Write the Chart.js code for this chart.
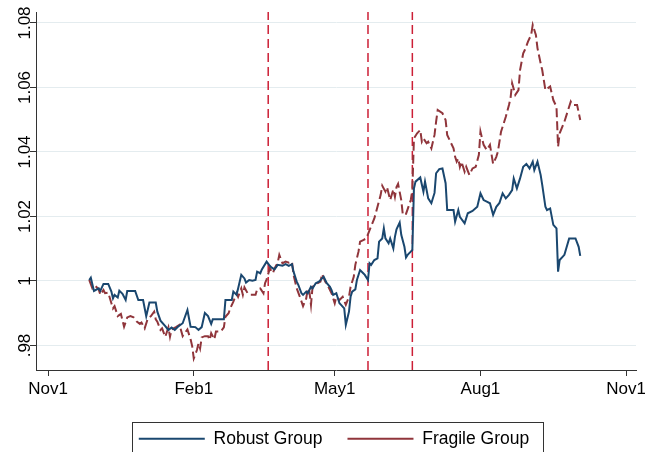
<!DOCTYPE html>
<html>
<head>
<meta charset="utf-8">
<script src="https://cdn.jsdelivr.net/npm/chart.js@4.4.1/dist/chart.umd.min.js"></script>
<style>
  html, body { margin: 0; padding: 0; background: #fff; }
</style>
</head>
<body>
<canvas id="chart" width="645" height="452"></canvas>
<script>
// x values are days counted from Nov 1
const robustDays = [
  26, 27, 29, 32, 33, 35, 38, 40, 41, 42,
  44, 45, 47, 49, 50, 55, 57, 60, 62, 64,
  68, 69, 71, 74, 76, 78, 80, 82, 85, 88,
  90, 93, 95, 97, 99, 101, 103, 104, 111, 112,
  116, 117, 119, 120, 122, 124, 125, 127, 129, 131,
  132, 134, 135, 138, 140, 141, 143, 145, 148, 150,
  152, 154, 155, 157, 158, 160, 161, 163, 164, 166,
  167, 169, 171, 173, 174, 176, 178, 179, 180, 182,
  184, 185, 187, 188, 190, 191, 192, 194, 195, 197,
  199, 200, 202, 203, 204, 206, 208, 209, 211, 212,
  213, 215, 216, 218, 219, 220, 222, 223, 225, 226,
  227, 229, 230, 231, 232, 235, 237, 238, 240, 242,
  244, 245, 247, 249, 251, 252, 256, 257, 259, 260,
  263, 265, 268, 271, 273, 275, 277, 279, 281, 283,
  285, 287, 289, 291, 293, 294, 296, 298, 300, 302,
  304, 306, 307, 309, 311, 312, 314, 315, 317, 319,
  321, 322, 323, 326, 329, 333, 335, 336
];
const robustVals = [
  1.0003, 1.0010, 0.9969, 0.9977, 0.9969, 0.9991, 0.9991, 0.9967, 0.9946, 0.9957,
  0.9949, 0.9970, 0.9960, 0.9941, 0.9969, 0.9969, 0.9941, 0.9941, 0.9891, 0.9933,
  0.9933, 0.9905, 0.9877, 0.9860, 0.9848, 0.9856, 0.9848, 0.9858, 0.9869, 0.9910,
  0.9858, 0.9857, 0.9848, 0.9857, 0.9901, 0.9891, 0.9867, 0.9881, 0.9881, 0.9941,
  0.9941, 0.9967, 0.9957, 0.9977, 1.0019, 1.0008, 0.9995, 1.0003, 1.0001, 1.0003,
  1.0029, 1.0024, 1.0036, 1.0060, 1.0047, 1.0042, 1.0036, 1.0050, 1.0047, 1.0052,
  1.0047, 1.0052, 1.0029, 0.9998, 0.9988, 0.9962, 0.9957, 0.9967, 0.9962, 0.9982,
  0.9977, 0.9993, 0.9998, 1.0008, 1.0013, 0.9993, 0.9982, 0.9972, 0.9957, 0.9962,
  0.9931, 0.9926, 0.9915, 0.9864, 0.9905, 0.9951, 0.9967, 0.9974, 1.0003, 1.0034,
  1.0024, 1.0019, 1.0003, 1.0055, 1.0050, 1.0065, 1.0070, 1.0122, 1.0132, 1.0163,
  1.0132, 1.0117, 1.0132, 1.0101, 1.0137, 1.0160, 1.0181, 1.0143, 1.0106, 1.0073,
  1.0081, 1.0091, 1.0096, 1.0287, 1.0308, 1.0321, 1.0277, 1.0308, 1.0256, 1.0241,
  1.0273, 1.0334, 1.0347, 1.0349, 1.0303, 1.0220, 1.0220, 1.0184, 1.0220, 1.0199,
  1.0179, 1.0210, 1.0217, 1.0230, 1.0272, 1.0251, 1.0246, 1.0241, 1.0205, 1.0230,
  1.0242, 1.0272, 1.0256, 1.0267, 1.0282, 1.0318, 1.0287, 1.0318, 1.0354, 1.0363,
  1.0349, 1.0370, 1.0344, 1.0370, 1.0329, 1.0298, 1.0230, 1.0220, 1.0225, 1.0174,
  1.0163, 1.0029, 1.0065, 1.0081, 1.0132, 1.0132, 1.0106, 1.0078
];
const fragileDays = [
  26, 28, 30, 32, 33, 35, 36, 38, 40, 41,
  42, 44, 46, 48, 50, 52, 54, 56, 58, 59,
  61, 63, 65, 67, 68, 69, 71, 72, 74, 76,
  77, 78, 81, 83, 85, 88, 90, 91, 92, 94,
  95, 96, 97, 99, 101, 102, 103, 105, 106, 109,
  111, 112, 114, 115, 117, 119, 120, 122, 123, 124,
  126, 128, 131, 132, 134, 136, 137, 138, 140, 142,
  143, 145, 146, 148, 150, 152, 154, 155, 157, 159,
  161, 163, 164, 165, 166, 167, 170, 172, 173, 175,
  177, 179, 181, 182, 184, 186, 188, 190, 191, 193,
  194, 196, 197, 199, 201, 203, 206, 208, 210, 211,
  213, 214, 216, 218, 219, 220, 221, 223, 224, 226,
  227, 229, 230, 231, 233, 235, 236, 237, 239, 240,
  242, 244, 245, 246, 249, 251, 252, 254, 256, 257,
  258, 259, 260, 261, 263, 264, 266, 268, 270, 272,
  273, 275, 277, 279, 281, 283, 284, 286, 289, 291,
  292, 293, 295, 297, 298, 300, 301, 303, 305, 306,
  308, 309, 311, 312, 314, 317, 319, 321, 322, 323,
  326, 330, 331, 334, 336
];
const fragileVals = [
  1.0003, 0.9977, 0.9984, 0.9974, 0.9957, 0.9972, 0.9962, 0.9964, 0.9931, 0.9915,
  0.9922, 0.9891, 0.9898, 0.9858, 0.9887, 0.9891, 0.9887, 0.9874, 0.9867, 0.9871,
  0.9853, 0.9884, 0.9891, 0.9905, 0.9881, 0.9874, 0.9848, 0.9853, 0.9827, 0.9856,
  0.9827, 0.9850, 0.9858, 0.9864, 0.9829, 0.9850, 0.9819, 0.9798, 0.9760, 0.9786,
  0.9807, 0.9791, 0.9825, 0.9829, 0.9829, 0.9817, 0.9838, 0.9819, 0.9843, 0.9843,
  0.9856, 0.9889, 0.9900, 0.9915, 0.9936, 0.9962, 0.9951, 0.9977, 0.9957, 0.9980,
  0.9962, 0.9957, 0.9957, 0.9974, 0.9977, 0.9962, 0.9993, 1.0005, 1.0039, 1.0024,
  1.0039, 1.0057, 1.0081, 1.0055, 1.0060, 1.0057, 1.0060, 1.0019, 0.9977, 0.9951,
  0.9922, 0.9946, 0.9977, 0.9967, 0.9926, 0.9982, 0.9993, 0.9998, 1.0022, 0.9998,
  0.9982, 0.9962, 0.9931, 0.9951, 0.9941, 0.9951, 0.9926, 0.9951, 0.9982, 1.0013,
  1.0050, 1.0091, 1.0122, 1.0127, 1.0132, 1.0158, 1.0194, 1.0230, 1.0267, 1.0295,
  1.0277, 1.0291, 1.0251, 1.0284, 1.0261, 1.0291, 1.0301, 1.0251, 1.0205, 1.0208,
  1.0222, 1.0251, 1.0282, 1.0442, 1.0458, 1.0468, 1.0432, 1.0442, 1.0427, 1.0432,
  1.0411, 1.0453, 1.0494, 1.0530, 1.0520, 1.0499, 1.0453, 1.0432, 1.0411, 1.0385,
  1.0370, 1.0380, 1.0354, 1.0370, 1.0339, 1.0354, 1.0329, 1.0349, 1.0354, 1.0391,
  1.0463, 1.0422, 1.0406, 1.0422, 1.0363, 1.0385, 1.0401, 1.0463, 1.0509, 1.0546,
  1.0567, 1.0613, 1.0577, 1.0592, 1.0654, 1.0706, 1.0716, 1.0742, 1.0763, 1.0794,
  1.0763, 1.0722, 1.0675, 1.0654, 1.0592, 1.0603, 1.0561, 1.0540, 1.0416, 1.0458,
  1.0494, 1.0556, 1.0546, 1.0546, 1.0499
];
const eventDays = [139, 202, 230];
const xTickDays = [0, 92, 181, 273, 365];
const xTickLabels = ['Nov1', 'Feb1', 'May1', 'Aug1', 'Nov1'];
const yTickVals = [0.98, 1, 1.02, 1.04, 1.06, 1.08];
const yTickLabels = ['.98', '1', '1.02', '1.04', '1.06', '1.08'];

const yMin = 0.9724, yMax = 1.0834;
const blue = '#1a476f', maroon = '#90353b', eventRed = '#cc1f36';

Chart.defaults.font.family = '"Liberation Sans", Arial, sans-serif';
Chart.defaults.color = '#000';

const pairs = (xs, ys) => xs.map((d, i) => ({x: d, y: ys[i]}));

const datasets = [{
    label: 'Robust Group',
    data: pairs(robustDays, robustVals),
    borderColor: blue,
    borderWidth: 2,
    order: 0
  }, {
    label: 'Fragile Group',
    data: pairs(fragileDays, fragileVals),
    borderColor: maroon,
    borderWidth: 2,
    borderDash: [9, 4],
    order: 1
  }];
eventDays.forEach(d => {
  datasets.push({
    label: 'event',
    data: [{x: d, y: yMin}, {x: d, y: yMax}],
    borderColor: eventRed,
    borderWidth: 1.5,
    borderDash: [9, 5],
    order: 2
  });
});

// bordered legend like the stata one
const legendFrame = {
  id: 'legendFrame',
  afterLayout(chart) {
    const lg = chart.legend;
    lg.left += 16; lg.right += 16;
    lg.top += 5.5; lg.bottom += 5.5;
  },
  afterDraw(chart) {
    const lg = chart.legend;
    const pad = lg.options.labels.padding;
    const total = lg.lineWidths[0];
    const startX = (lg.left + pad + lg.right - total) / 2;
    const ctx = chart.ctx;
    ctx.save();
    ctx.strokeStyle = '#333';
    ctx.lineWidth = 1;
    ctx.strokeRect(Math.round(startX - 7) + 0.5, Math.round(lg.top + pad - 8) + 0.5,
      Math.round(total - pad + 21), 60);
    ctx.restore();
  }
};

const config = {
  type: 'line',
  data: {datasets: datasets},
  options: {
    responsive: false,
    animation: false,
    elements: {point: {radius: 0}, line: {tension: 0}},
    layout: {padding: {top: 12, right: 9, left: 0, bottom: 0}},
    plugins: {
      tooltip: {enabled: false},
      legend: {
        position: 'bottom',
        labels: {
          usePointStyle: true,
          pointStyle: 'line',
          pointStyleWidth: 66,
          padding: 25,
          color: '#000',
          font: {size: 17.5},
          filter: item => item.datasetIndex < 2
        }
      }
    },
    scales: {
      x: {
        type: 'linear',
        min: -7.6,
        max: 371.2,
        afterBuildTicks: s => { s.ticks = xTickDays.map(v => ({value: v})); },
        afterFit: s => { s.height = 29.5; s.paddingLeft = 0; s.paddingRight = 0; },
        grid: {drawOnChartArea: false, tickLength: 6, color: '#333', tickColor: '#333'},
        border: {color: '#333', width: 1},
        ticks: {
          autoSkip: false, maxRotation: 0, padding: 3,
          font: {size: 17},
          callback: (v, i) => xTickLabels[i]
        }
      },
      y: {
        min: yMin,
        max: yMax,
        afterBuildTicks: s => { s.ticks = yTickVals.map(v => ({value: v})); },
        afterFit: s => { s.width = 36; s.paddingTop = 0; s.paddingBottom = 0; },
        grid: {color: '#e4ecef', lineWidth: 1, tickLength: 6, tickColor: '#333'},
        border: {color: '#333', width: 1},
        ticks: {
          minRotation: 90, maxRotation: 90,
          crossAlign: 'center',
          padding: -12,
          font: {size: 17},
          callback: (v, i) => yTickLabels[i]
        }
      }
    }
  },
  plugins: [legendFrame]
};

const lineChart = new Chart(document.getElementById('chart'), config);
</script>
</body>
</html>
